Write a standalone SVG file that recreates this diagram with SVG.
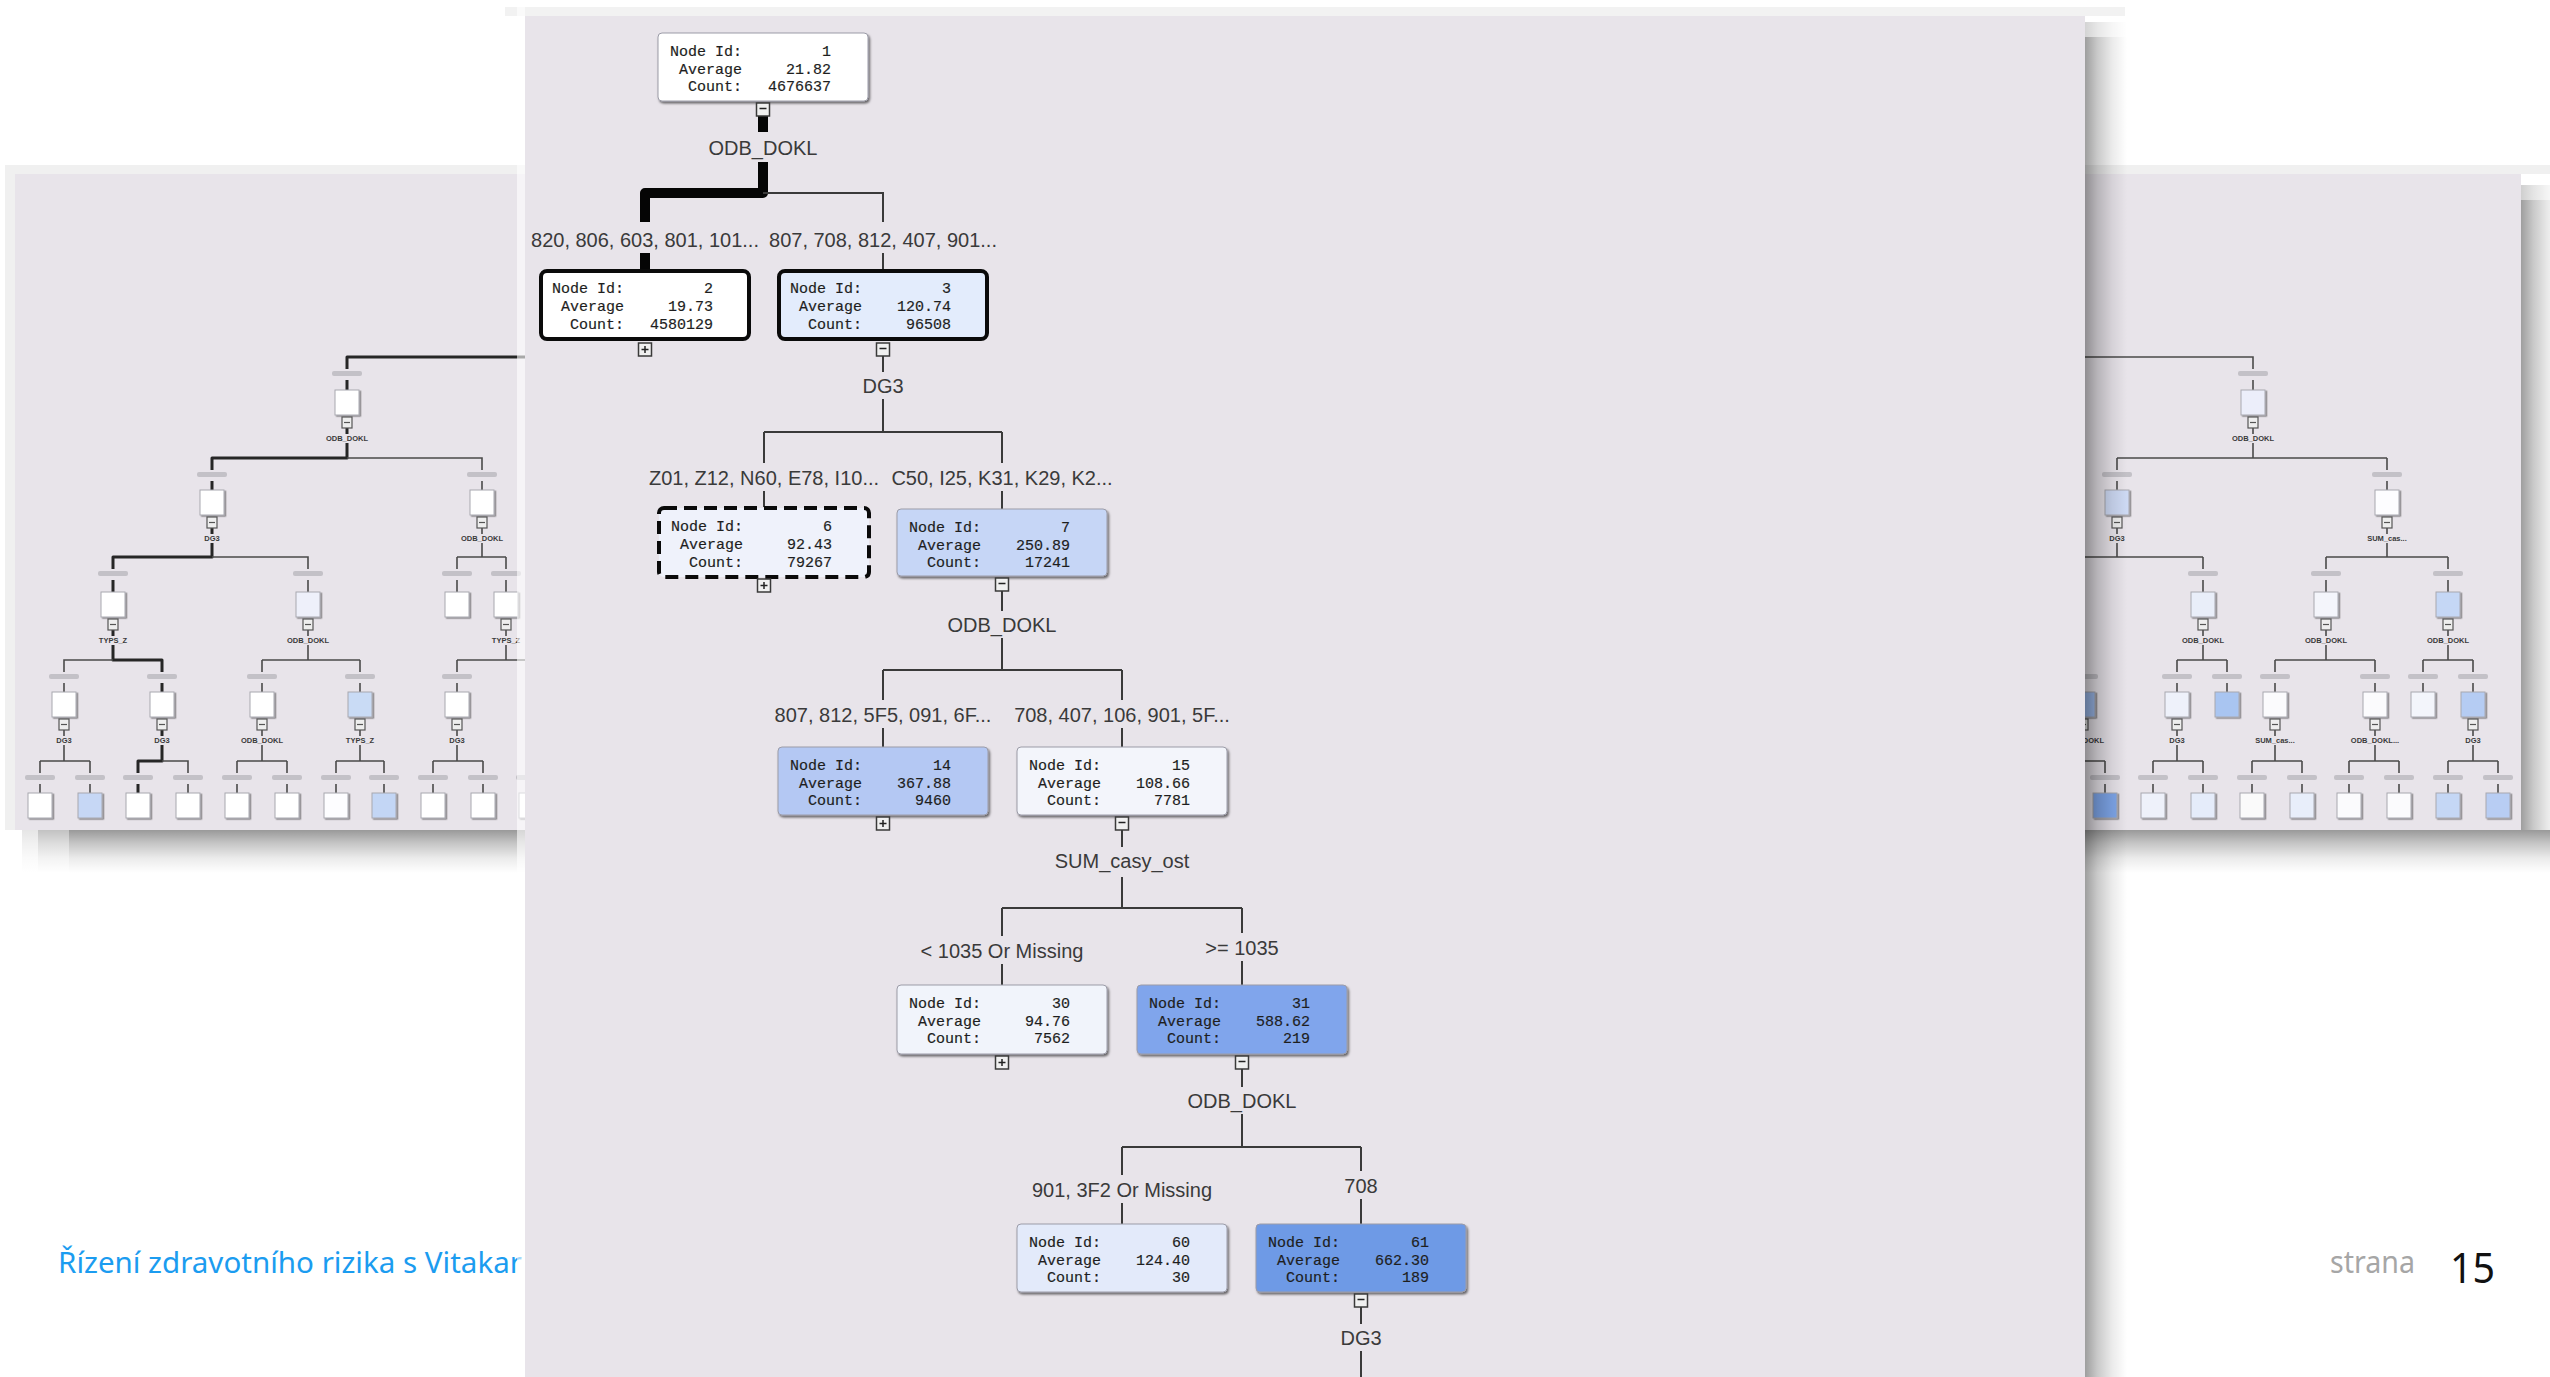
<svg xmlns="http://www.w3.org/2000/svg" xmlns:xlink="http://www.w3.org/1999/xlink" width="2550" height="1377" viewBox="0 0 2550 1377">
<defs>
<style>
.lbl{font-family:"Liberation Sans",Arial,sans-serif;font-size:20px;fill:#3a3a3a;text-anchor:middle}
.nt{font-family:"Liberation Mono","Courier New",monospace;font-size:15px;fill:#1e1e1e;stroke:#1e1e1e;stroke-width:0.18;text-anchor:end}
.ln{stroke:#3a3a3a;stroke-width:2;fill:none}
.hv{stroke:#050505;stroke-width:10;fill:none;stroke-linejoin:round}
.nb{stroke:#9c9ca8;stroke-width:1}
.nk{stroke:#0a0a0a;stroke-width:4}
.nd{stroke:#0a0a0a;stroke-width:4;stroke-dasharray:13 7}
.ml{stroke:#4a4a4a;stroke-width:1.6;fill:none}
.mt{stroke:#262626;stroke-width:3;fill:none;stroke-linejoin:round}
.mn{stroke:#a8a8b0;stroke-width:1}
.mlb{font-family:"Liberation Sans",Arial,sans-serif;font-size:7.5px;font-weight:bold;fill:#3a3a3a;text-anchor:middle}
.pan{fill:#e8e4ea}
.foot{font-family:"Noto Sans","Open Sans",sans-serif}
</style>
<linearGradient id="shR" x1="0" x2="1" y1="0" y2="0">
<stop offset="0" stop-color="#000" stop-opacity=".38"/><stop offset=".3" stop-color="#000" stop-opacity=".21"/><stop offset=".65" stop-color="#000" stop-opacity=".08"/><stop offset="1" stop-color="#000" stop-opacity="0"/>
</linearGradient>
<linearGradient id="shB" x1="0" x2="0" y1="0" y2="1">
<stop offset="0" stop-color="#000" stop-opacity=".4"/><stop offset=".3" stop-color="#000" stop-opacity=".23"/><stop offset=".65" stop-color="#000" stop-opacity=".08"/><stop offset="1" stop-color="#000" stop-opacity="0"/>
</linearGradient>
<filter id="nsh" x="-5%" y="-10%" width="115%" height="130%"><feDropShadow dx="1.5" dy="2" stdDeviation="0.8" flood-color="#000" flood-opacity="0.55"/></filter>
<filter id="msh" x="-20%" y="-20%" width="150%" height="150%"><feDropShadow dx="1.5" dy="1.2" stdDeviation="0.6" flood-color="#000" flood-opacity="0.45"/></filter>
<g id="bm"><rect x="-6.5" y="0" width="13" height="13" fill="#f0f0f0" stroke="#3a3a3a" stroke-width="1.5"/><path d="M-3.5,5.5H3.5" stroke="#222" stroke-width="1.5"/></g>
<g id="bp"><rect x="-6.5" y="0" width="13" height="13" fill="#f0f0f0" stroke="#3a3a3a" stroke-width="1.5"/><path d="M-3.5,6.5H3.5M0,3V10" stroke="#222" stroke-width="1.5"/></g>
<g id="mb"><rect x="-5" y="0" width="10" height="11" fill="#eeeeee" stroke="#555" stroke-width="1.2"/><path d="M-3,5.5H3" stroke="#555" stroke-width="1.2"/></g>
<rect id="blob" x="-15" y="0" width="30" height="5" rx="2" fill="#b4b2b8" opacity=".7"/>
</defs>

<rect x="0" y="0" width="2550" height="1377" fill="#ffffff"/>

<!-- left background panel -->
<g id="left-panel">
<rect x="5" y="165" width="520" height="9" fill="#f0f0f0"/>
<rect x="5" y="165" width="10" height="665" fill="#f0f0f0"/>
<rect class="pan" x="15" y="174" width="510" height="656"/>
<rect x="69" y="830" width="456" height="43" fill="url(#shB)"/>
<rect x="38" y="830" width="31" height="43" fill="url(#shB)" opacity=".6"/>
<rect x="22" y="830" width="16" height="43" fill="url(#shB)" opacity=".25"/>
<g class="mini-connectors">
<path class="mt" d="M525,357H347V369M347,380V390M347,428V434M347,443V458H212V470M212,481V490M212,528V534M212,543V557H113V569M113,580V592M113,630V636M113,645V660H162V672M162,683V692M162,730V736M162,745V761H138V773M138,784V793"/>
<path class="ml" d="M347,458H482V470M482,481V490M212,557H308V569M308,580V592M482,528V534M482,543V557M457,557H506M457,557V569M457,580V592M506,557V569M506,580V592M113,660H64V672M64,683V692M308,630V636M308,645V660M262,660H360M262,660V672M262,683V692M360,660V672M360,683V692M506,630V636M506,645V660M457,660H555M457,660V672M457,683V692M64,730V736M64,745V761M40,761H90M40,761V773M40,784V793M90,761V773M90,784V793M162,761H188V773M188,784V793M262,730V736M262,745V761M237,761H287M237,761V773M237,784V793M287,761V773M287,784V793M360,730V736M360,745V761M336,761H384M336,761V773M336,784V793M384,761V773M384,784V793M457,730V736M457,745V761M433,761H483M433,761V773M433,784V793M483,761V773M483,784V793M531,761H580M531,761V773M531,784V793"/>
</g>
<g class="mini-blobs">
<use href="#blob" x="347" y="371"/><use href="#blob" x="212" y="472"/><use href="#blob" x="482" y="472"/>
<use href="#blob" x="113" y="571"/><use href="#blob" x="308" y="571"/><use href="#blob" x="457" y="571"/><use href="#blob" x="506" y="571"/>
<use href="#blob" x="64" y="674"/><use href="#blob" x="162" y="674"/><use href="#blob" x="262" y="674"/><use href="#blob" x="360" y="674"/><use href="#blob" x="457" y="674"/>
<use href="#blob" x="40" y="775"/><use href="#blob" x="90" y="775"/><use href="#blob" x="138" y="775"/><use href="#blob" x="188" y="775"/><use href="#blob" x="237" y="775"/><use href="#blob" x="287" y="775"/><use href="#blob" x="336" y="775"/><use href="#blob" x="384" y="775"/><use href="#blob" x="433" y="775"/><use href="#blob" x="483" y="775"/><use href="#blob" x="531" y="775"/>
</g>
<g class="mini-nodes" filter="url(#msh)">
<rect id="lm-a" class="mn" x="335" y="390" width="24" height="25" fill="#ffffff"/>
<rect id="lm-b1" class="mn" x="200" y="490" width="24" height="25" fill="#ffffff"/>
<rect id="lm-b2" class="mn" x="470" y="490" width="24" height="25" fill="#ffffff"/>
<rect id="lm-c1" class="mn" x="101" y="592" width="24" height="25" fill="#ffffff"/>
<rect id="lm-c2" class="mn" x="296" y="592" width="24" height="25" fill="#eef0fa"/>
<rect id="lm-c3" class="mn" x="445" y="592" width="24" height="25" fill="#ffffff"/>
<rect id="lm-c4" class="mn" x="494" y="592" width="24" height="25" fill="#ffffff"/>
<rect id="lm-d1" class="mn" x="52" y="692" width="24" height="25" fill="#ffffff"/>
<rect id="lm-d2" class="mn" x="150" y="692" width="24" height="25" fill="#ffffff"/>
<rect id="lm-d3" class="mn" x="250" y="692" width="24" height="25" fill="#ffffff"/>
<rect id="lm-d4" class="mn" x="348" y="692" width="24" height="25" fill="#c9dbf5"/>
<rect id="lm-d5" class="mn" x="445" y="692" width="24" height="25" fill="#ffffff"/>
<rect id="lm-e1" class="mn" x="28" y="793" width="24" height="25" fill="#ffffff"/>
<rect id="lm-e2" class="mn" x="78" y="793" width="24" height="25" fill="#c6d7f5"/>
<rect id="lm-e3" class="mn" x="126" y="793" width="24" height="25" fill="#ffffff"/>
<rect id="lm-e4" class="mn" x="176" y="793" width="24" height="25" fill="#ffffff"/>
<rect id="lm-e5" class="mn" x="225" y="793" width="24" height="25" fill="#ffffff"/>
<rect id="lm-e6" class="mn" x="275" y="793" width="24" height="25" fill="#ffffff"/>
<rect id="lm-e7" class="mn" x="324" y="793" width="24" height="25" fill="#fdfdff"/>
<rect id="lm-e8" class="mn" x="372" y="793" width="24" height="25" fill="#c3d6f5"/>
<rect id="lm-e9" class="mn" x="421" y="793" width="24" height="25" fill="#ffffff"/>
<rect id="lm-e10" class="mn" x="471" y="793" width="24" height="25" fill="#ffffff"/>
<rect id="lm-e11" class="mn" x="519" y="793" width="24" height="25" fill="#ffffff"/>
</g>
<g class="mini-buttons">
<use href="#mb" x="347" y="417"/><use href="#mb" x="212" y="517"/><use href="#mb" x="482" y="517"/>
<use href="#mb" x="113" y="619"/><use href="#mb" x="308" y="619"/><use href="#mb" x="506" y="619"/>
<use href="#mb" x="64" y="719"/><use href="#mb" x="162" y="719"/><use href="#mb" x="262" y="719"/><use href="#mb" x="360" y="719"/><use href="#mb" x="457" y="719"/>
</g>
<g class="mini-labels">
<text class="mlb" x="347" y="441">ODB_DOKL</text>
<text class="mlb" x="212" y="541">DG3</text>
<text class="mlb" x="482" y="541">ODB_DOKL</text>
<text class="mlb" x="113" y="643">TYPS_Z</text>
<text class="mlb" x="308" y="643">ODB_DOKL</text>
<text class="mlb" x="506" y="643">TYPS_Z</text>
<text class="mlb" x="64" y="743">DG3</text>
<text class="mlb" x="162" y="743">DG3</text>
<text class="mlb" x="262" y="743">ODB_DOKL</text>
<text class="mlb" x="360" y="743">TYPS_Z</text>
<text class="mlb" x="457" y="743">DG3</text>
</g>
</g>

<!-- right background panel -->
<g id="right-panel">
<rect x="2040" y="165" width="510" height="9" fill="#f0f0f0"/>
<rect class="pan" x="2040" y="174" width="481" height="656"/>
<rect x="2521" y="200" width="42" height="630" fill="url(#shR)"/>
<rect x="2521" y="185" width="42" height="15" fill="url(#shR)" opacity=".5"/>
<rect x="2040" y="830" width="523" height="43" fill="url(#shB)"/>
<g class="mini-connectors">
<path class="ml" d="M2040,357H2253V369M2253,380V390M2253,428V434M2253,443V458M2117,458H2387M2117,458V470M2117,481V490M2387,458V470M2387,481V490M2117,528V534M2117,543V557M2040,557H2203M2203,557V569M2203,580V592M2387,528V534M2387,543V557M2326,557H2448M2326,557V569M2326,580V592M2448,557V569M2448,580V592M2040,660H2083V672M2083,683V692M2203,630V636M2203,645V660M2177,660H2227M2177,660V672M2177,683V692M2227,660V672M2227,683V692M2326,630V636M2326,645V660M2275,660H2375M2275,660V672M2275,683V692M2375,660V672M2375,683V692M2448,630V636M2448,645V660M2423,660H2473M2423,660V672M2423,683V692M2473,660V672M2473,683V692M2083,730V736M2083,745V761M2057,761H2105M2057,761V773M2057,784V793M2105,761V773M2105,784V793M2177,730V736M2177,745V761M2153,761H2203M2153,761V773M2153,784V793M2203,761V773M2203,784V793M2275,730V736M2275,745V761M2252,761H2302M2252,761V773M2252,784V793M2302,761V773M2302,784V793M2375,730V736M2375,745V761M2349,761H2399M2349,761V773M2349,784V793M2399,761V773M2399,784V793M2473,730V736M2473,745V761M2448,761H2498M2448,761V773M2448,784V793M2498,761V773M2498,784V793"/>
</g>
<g class="mini-blobs">
<use href="#blob" x="2253" y="371"/><use href="#blob" x="2117" y="472"/><use href="#blob" x="2387" y="472"/>
<use href="#blob" x="2203" y="571"/><use href="#blob" x="2326" y="571"/><use href="#blob" x="2448" y="571"/>
<use href="#blob" x="2083" y="674"/><use href="#blob" x="2177" y="674"/><use href="#blob" x="2227" y="674"/><use href="#blob" x="2275" y="674"/><use href="#blob" x="2375" y="674"/><use href="#blob" x="2423" y="674"/><use href="#blob" x="2473" y="674"/>
<use href="#blob" x="2057" y="775"/><use href="#blob" x="2105" y="775"/><use href="#blob" x="2153" y="775"/><use href="#blob" x="2203" y="775"/><use href="#blob" x="2252" y="775"/><use href="#blob" x="2302" y="775"/><use href="#blob" x="2349" y="775"/><use href="#blob" x="2399" y="775"/><use href="#blob" x="2448" y="775"/><use href="#blob" x="2498" y="775"/>
</g>
<g class="mini-nodes" filter="url(#msh)">
<rect id="rm-a" class="mn" x="2241" y="390" width="24" height="25" fill="#eceefa"/>
<rect id="rm-b1" class="mn" x="2105" y="490" width="24" height="25" fill="#cdd9f3"/>
<rect id="rm-b2" class="mn" x="2375" y="490" width="24" height="25" fill="#fdfdff"/>
<rect id="rm-c1" class="mn" x="2191" y="592" width="24" height="25" fill="#e9eef9"/>
<rect id="rm-c2" class="mn" x="2314" y="592" width="24" height="25" fill="#f4f5fb"/>
<rect id="rm-c3" class="mn" x="2436" y="592" width="24" height="25" fill="#c5d7f5"/>
<rect id="rm-d0" class="mn" x="2071" y="692" width="24" height="25" fill="#9fbdf0"/>
<rect id="rm-d1" class="mn" x="2165" y="692" width="24" height="25" fill="#eef1fa"/>
<rect id="rm-d2" class="mn" x="2215" y="692" width="24" height="25" fill="#a9c5f1"/>
<rect id="rm-d3" class="mn" x="2263" y="692" width="24" height="25" fill="#fbfbfd"/>
<rect id="rm-d4" class="mn" x="2363" y="692" width="24" height="25" fill="#fbfbfd"/>
<rect id="rm-d5" class="mn" x="2411" y="692" width="24" height="25" fill="#f3f5fb"/>
<rect id="rm-d6" class="mn" x="2461" y="692" width="24" height="25" fill="#b5ccf3"/>
<rect id="rm-e0" class="mn" x="2045" y="793" width="24" height="25" fill="#ffffff"/>
<rect id="rm-e1" class="mn" x="2093" y="793" width="24" height="25" fill="#7fa7eb"/>
<rect id="rm-e2" class="mn" x="2141" y="793" width="24" height="25" fill="#eef1fa"/>
<rect id="rm-e3" class="mn" x="2191" y="793" width="24" height="25" fill="#e5ecfa"/>
<rect id="rm-e4" class="mn" x="2240" y="793" width="24" height="25" fill="#fafafa"/>
<rect id="rm-e5" class="mn" x="2290" y="793" width="24" height="25" fill="#e8eefa"/>
<rect id="rm-e6" class="mn" x="2337" y="793" width="24" height="25" fill="#fbfbfd"/>
<rect id="rm-e7" class="mn" x="2387" y="793" width="24" height="25" fill="#fbfbfd"/>
<rect id="rm-e8" class="mn" x="2436" y="793" width="24" height="25" fill="#c5d7f5"/>
<rect id="rm-e9" class="mn" x="2486" y="793" width="24" height="25" fill="#b8cdf3"/>
</g>
<g class="mini-buttons">
<use href="#mb" x="2253" y="417"/><use href="#mb" x="2117" y="517"/><use href="#mb" x="2387" y="517"/>
<use href="#mb" x="2203" y="619"/><use href="#mb" x="2326" y="619"/><use href="#mb" x="2448" y="619"/>
<use href="#mb" x="2083" y="719"/><use href="#mb" x="2177" y="719"/><use href="#mb" x="2275" y="719"/><use href="#mb" x="2375" y="719"/><use href="#mb" x="2473" y="719"/>
</g>
<g class="mini-labels">
<text class="mlb" x="2253" y="441">ODB_DOKL</text>
<text class="mlb" x="2117" y="541">DG3</text>
<text class="mlb" x="2387" y="541">SUM_cas...</text>
<text class="mlb" x="2203" y="643">ODB_DOKL</text>
<text class="mlb" x="2326" y="643">ODB_DOKL</text>
<text class="mlb" x="2448" y="643">ODB_DOKL</text>
<text class="mlb" x="2083" y="743">ODB_DOKL</text>
<text class="mlb" x="2177" y="743">DG3</text>
<text class="mlb" x="2275" y="743">SUM_cas...</text>
<text class="mlb" x="2375" y="743">ODB_DOKL...</text>
<text class="mlb" x="2473" y="743">DG3</text>
</g>
</g>

<!-- footer -->
<g id="footer" class="foot">
<text x="58" y="1273" font-size="29.5" fill="#1b9cf0" textLength="464" lengthAdjust="spacingAndGlyphs">Řízení zdravotního rizika s Vitakar</text>
<text x="2330" y="1273" font-size="30" fill="#a6a6a6" textLength="85" lengthAdjust="spacingAndGlyphs">strana</text>
<text x="2450" y="1283" font-size="42" fill="#111111" textLength="45" lengthAdjust="spacingAndGlyphs">15</text>
</g>

<!-- main panel -->
<g id="main-panel">
<rect x="505" y="7" width="1620" height="9" fill="#f2f2f2"/>
<rect x="517" y="7" width="8" height="1370" fill="#ffffff" opacity=".6"/>
<rect class="pan" x="525" y="16" width="1560" height="1361"/>
<rect x="2085" y="37" width="42" height="1340" fill="url(#shR)"/>
<rect x="2085" y="22" width="42" height="15" fill="url(#shR)" opacity=".45"/>
</g>

<g id="connectors">
<path class="hv" d="M763,116V132M763,162V193H645V222M645,253V269"/>
<path class="ln" d="M763,193H883V222M883,253V269"/>
<path class="ln" d="M883,356V372M883,399V432M764,432H1002M764,432V463M1002,432V463M764,491V507M1002,491V509"/>
<path class="ln" d="M1002,591V611M1002,638V670M883,670H1122M883,670V700M1122,670V700M883,728V747M1122,728V747"/>
<path class="ln" d="M1122,830V847M1122,877V908M1002,908H1242M1002,908V936M1242,908V933M1002,964V985M1242,961V985"/>
<path class="ln" d="M1242,1069V1087M1242,1114V1147M1122,1147H1361M1122,1147V1175M1361,1147V1171M1122,1203V1224M1361,1199V1224"/>
<path class="ln" d="M1361,1307V1324M1361,1351V1377"/>
</g>

<g id="split-labels">
<text class="lbl" x="763" y="155">ODB_DOKL</text>
<text class="lbl" x="645" y="247">820, 806, 603, 801, 101...</text>
<text class="lbl" x="883" y="247">807, 708, 812, 407, 901...</text>
<text class="lbl" x="883" y="393">DG3</text>
<text class="lbl" x="764" y="485">Z01, Z12, N60, E78, I10...</text>
<text class="lbl" x="1002" y="485">C50, I25, K31, K29, K2...</text>
<text class="lbl" x="1002" y="632">ODB_DOKL</text>
<text class="lbl" x="883" y="722">807, 812, 5F5, 091, 6F...</text>
<text class="lbl" x="1122" y="722">708, 407, 106, 901, 5F...</text>
<text class="lbl" x="1122" y="868">SUM_casy_ost</text>
<text class="lbl" x="1002" y="958">&lt; 1035 Or Missing</text>
<text class="lbl" x="1242" y="955">&gt;= 1035</text>
<text class="lbl" x="1242" y="1108">ODB_DOKL</text>
<text class="lbl" x="1122" y="1197">901, 3F2 Or Missing</text>
<text class="lbl" x="1361" y="1193">708</text>
<text class="lbl" x="1361" y="1345">DG3</text>
</g>

<g id="node1">
<rect class="nb" x="658" y="33" width="210" height="68" rx="4" fill="#ffffff" filter="url(#nsh)"/>
<text class="nt" x="742" y="56">Node Id:</text><text class="nt" x="831" y="56">1</text>
<text class="nt" x="742" y="73.5">Average</text><text class="nt" x="831" y="73.5">21.82</text>
<text class="nt" x="742" y="91">Count:</text><text class="nt" x="831" y="91">4676637</text>
<use href="#bm" x="763" y="103"/>
</g>
<g id="node2">
<rect class="nk" x="541" y="271" width="208" height="68" rx="6" fill="#ffffff"/>
<text class="nt" x="624" y="293">Node Id:</text><text class="nt" x="713" y="293">2</text>
<text class="nt" x="624" y="311">Average</text><text class="nt" x="713" y="311">19.73</text>
<text class="nt" x="624" y="328.5">Count:</text><text class="nt" x="713" y="328.5">4580129</text>
<use href="#bp" x="645" y="343"/>
</g>
<g id="node3">
<rect class="nk" x="779" y="271" width="208" height="68" rx="6" fill="#e3ecfc"/>
<text class="nt" x="862" y="293">Node Id:</text><text class="nt" x="951" y="293">3</text>
<text class="nt" x="862" y="311">Average</text><text class="nt" x="951" y="311">120.74</text>
<text class="nt" x="862" y="328.5">Count:</text><text class="nt" x="951" y="328.5">96508</text>
<use href="#bm" x="883" y="343"/>
</g>
<g id="node6">
<rect class="nd" x="659" y="508" width="210" height="69" rx="5" fill="#eff2fb"/>
<text class="nt" x="743" y="531">Node Id:</text><text class="nt" x="832" y="531">6</text>
<text class="nt" x="743" y="549">Average</text><text class="nt" x="832" y="549">92.43</text>
<text class="nt" x="743" y="566.5">Count:</text><text class="nt" x="832" y="566.5">79267</text>
<use href="#bp" x="764" y="579"/>
</g>
<g id="node7">
<rect class="nb" x="897" y="509" width="210" height="67" rx="4" fill="#c6d6f6" filter="url(#nsh)"/>
<text class="nt" x="981" y="532">Node Id:</text><text class="nt" x="1070" y="532">7</text>
<text class="nt" x="981" y="549.5">Average</text><text class="nt" x="1070" y="549.5">250.89</text>
<text class="nt" x="981" y="567">Count:</text><text class="nt" x="1070" y="567">17241</text>
<use href="#bm" x="1002" y="578"/>
</g>
<g id="node14">
<rect class="nb" x="778" y="747" width="210" height="68" rx="4" fill="#b4c8f3" filter="url(#nsh)"/>
<text class="nt" x="862" y="770">Node Id:</text><text class="nt" x="951" y="770">14</text>
<text class="nt" x="862" y="787.5">Average</text><text class="nt" x="951" y="787.5">367.88</text>
<text class="nt" x="862" y="805">Count:</text><text class="nt" x="951" y="805">9460</text>
<use href="#bp" x="883" y="817"/>
</g>
<g id="node15">
<rect class="nb" x="1017" y="747" width="210" height="68" rx="4" fill="#f3f5fb" filter="url(#nsh)"/>
<text class="nt" x="1101" y="770">Node Id:</text><text class="nt" x="1190" y="770">15</text>
<text class="nt" x="1101" y="787.5">Average</text><text class="nt" x="1190" y="787.5">108.66</text>
<text class="nt" x="1101" y="805">Count:</text><text class="nt" x="1190" y="805">7781</text>
<use href="#bm" x="1122" y="817"/>
</g>
<g id="node30">
<rect class="nb" x="897" y="985" width="210" height="69" rx="4" fill="#f1f4fb" filter="url(#nsh)"/>
<text class="nt" x="981" y="1008">Node Id:</text><text class="nt" x="1070" y="1008">30</text>
<text class="nt" x="981" y="1025.5">Average</text><text class="nt" x="1070" y="1025.5">94.76</text>
<text class="nt" x="981" y="1043">Count:</text><text class="nt" x="1070" y="1043">7562</text>
<use href="#bp" x="1002" y="1056"/>
</g>
<g id="node31">
<rect class="nb" x="1137" y="985" width="210" height="69" rx="4" fill="#80a5ec" filter="url(#nsh)"/>
<text class="nt" x="1221" y="1008">Node Id:</text><text class="nt" x="1310" y="1008">31</text>
<text class="nt" x="1221" y="1025.5">Average</text><text class="nt" x="1310" y="1025.5">588.62</text>
<text class="nt" x="1221" y="1043">Count:</text><text class="nt" x="1310" y="1043">219</text>
<use href="#bm" x="1242" y="1056"/>
</g>
<g id="node60">
<rect class="nb" x="1017" y="1224" width="210" height="68" rx="4" fill="#e3eafa" filter="url(#nsh)"/>
<text class="nt" x="1101" y="1247">Node Id:</text><text class="nt" x="1190" y="1247">60</text>
<text class="nt" x="1101" y="1264.5">Average</text><text class="nt" x="1190" y="1264.5">124.40</text>
<text class="nt" x="1101" y="1282">Count:</text><text class="nt" x="1190" y="1282">30</text>
</g>
<g id="node61">
<rect class="nb" x="1256" y="1224" width="210" height="68" rx="4" fill="#6e9ae6" filter="url(#nsh)"/>
<text class="nt" x="1340" y="1247">Node Id:</text><text class="nt" x="1429" y="1247">61</text>
<text class="nt" x="1340" y="1264.5">Average</text><text class="nt" x="1429" y="1264.5">662.30</text>
<text class="nt" x="1340" y="1282">Count:</text><text class="nt" x="1429" y="1282">189</text>
<use href="#bm" x="1361" y="1294"/>
</g>
</svg>
